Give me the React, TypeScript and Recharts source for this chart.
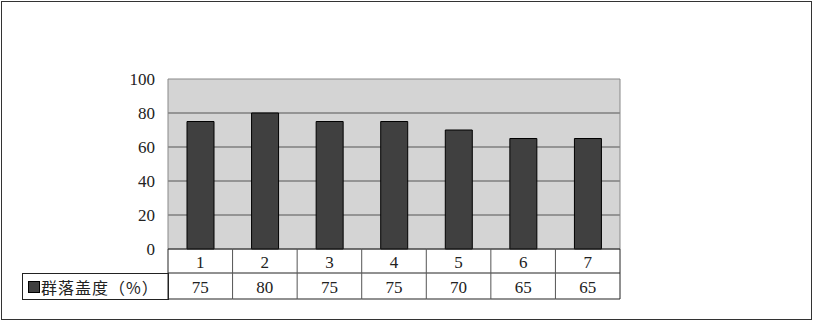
import React from 'react';
import { BarChart, Bar, XAxis, YAxis, CartesianGrid, ReferenceArea } from 'recharts';

const categories = ['1', '2', '3', '4', '5', '6', '7'];
const coverValues = [75, 80, 75, 75, 70, 65, 65];
const yTicks = [0, 20, 40, 60, 80, 100];
const seriesName = '群落盖度（%）';
const seriesColor = '#404040';

const data = categories.map((c, i) => ({ cat: c, cover: coverValues[i] }));

const PLOT_LEFT = 168;
const PLOT_RIGHT = 620;
const CELL_W = (PLOT_RIGHT - PLOT_LEFT) / categories.length;
const ROW1_H = 24;
const ROW2_H = 26;
const NUM_FONT = 'Liberation Serif, DejaVu Serif, serif';

const TableTick = (props: any) => {
  const { x, y, index } = props;
  const left = x - CELL_W / 2;
  const top = y;
  const txtStyle = { fontFamily: NUM_FONT, fontSize: 17 };
  return (
    <g>
      <line x1={left} y1={top} x2={left + CELL_W} y2={top} stroke="#222" />
      <line x1={left} y1={top + ROW1_H} x2={left + CELL_W} y2={top + ROW1_H} stroke="#222" />
      <line x1={left} y1={top + ROW1_H + ROW2_H} x2={left + CELL_W} y2={top + ROW1_H + ROW2_H} stroke="#222" />
      <line x1={left} y1={top} x2={left} y2={top + ROW1_H + ROW2_H} stroke={index === 0 ? '#222' : '#555'} />
      {index === categories.length - 1 && (
        <line x1={left + CELL_W} y1={top} x2={left + CELL_W} y2={top + ROW1_H + ROW2_H} stroke="#222" />
      )}
      <text x={x} y={top + ROW1_H / 2 + 1} textAnchor="middle" dominantBaseline="central" style={txtStyle} fill="#222">
        {categories[index]}
      </text>
      <text x={x} y={top + ROW1_H + ROW2_H / 2 + 1} textAnchor="middle" dominantBaseline="central" style={txtStyle} fill="#222">
        {coverValues[index]}
      </text>
    </g>
  );
};

const YTick = (props: any) => {
  const { x, y, payload } = props;
  return (
    <text x={x} y={y} textAnchor="end" dominantBaseline="central" style={{ fontFamily: NUM_FONT, fontSize: 17 }} fill="#222">
      {payload.value}
    </text>
  );
};

export default function App() {
  return (
    <div style={{ position: 'absolute', left: 0, top: 0, width: 814, height: 323, background: '#fff' }}>
      <div
        style={{
          position: 'absolute',
          left: 1,
          top: 1,
          width: 809,
          height: 317,
          border: '1px solid #333',
        }}
      />
      <BarChart
        width={814}
        height={323}
        data={data}
        margin={{ top: 79, right: 814 - PLOT_RIGHT, bottom: 24, left: PLOT_LEFT - 60 }}
      >
        <CartesianGrid
          vertical={false}
          horizontalValues={[20, 40, 60, 80]}
          stroke="#555"
          fill="#d4d4d4"
          fillOpacity={1}
        />
        <ReferenceArea y1={0} y2={100} fill="none" stroke="#888" strokeWidth={1} ifOverflow="visible" />
        <YAxis
          width={60}
          domain={[0, 100]}
          ticks={yTicks}
          interval={0}
          axisLine={false}
          tickLine={false}
          tickSize={0}
          tickMargin={13}
          tick={<YTick />}
        />
        <XAxis
          dataKey="cat"
          height={50}
          axisLine={false}
          tickLine={false}
          tickSize={0}
          tickMargin={0}
          interval={0}
          tick={<TableTick />}
        />
        <Bar dataKey="cover" name={seriesName} fill={seriesColor} stroke="#000" strokeWidth={1} barSize={27} isAnimationActive={false} />
      </BarChart>
      <div
        style={{
          position: 'absolute',
          left: 22,
          top: 273,
          boxSizing: 'border-box',
          width: PLOT_LEFT - 22 + 1,
          height: ROW2_H + 1,
          border: '1px solid #222',
          display: 'flex',
          alignItems: 'center',
          paddingLeft: 5,
          fontFamily: '"Noto Sans CJK SC", sans-serif',
          fontSize: 16,
          letterSpacing: 1,
          color: '#222',
          whiteSpace: 'nowrap',
        }}
      >
        <span
          style={{
            display: 'inline-block',
            width: 12,
            height: 12,
            background: seriesColor,
            border: '1px solid #000',
            boxSizing: 'border-box',
            marginRight: 1,
          }}
        />
        <span>{seriesName}</span>
      </div>
    </div>
  );
}
